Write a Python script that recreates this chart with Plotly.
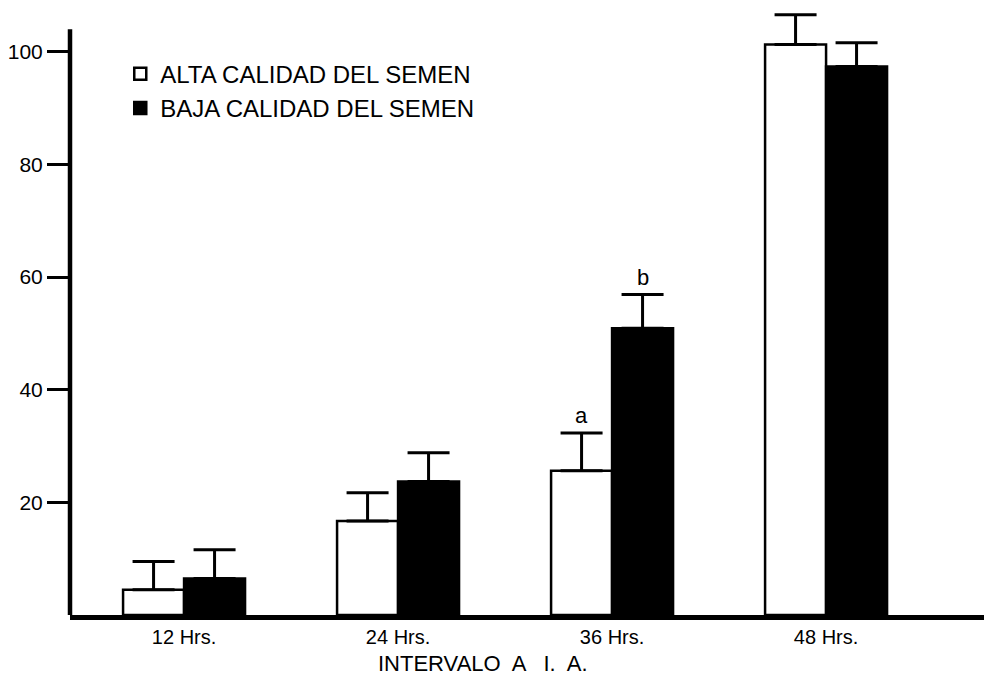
import plotly.graph_objects as go

categories = ["12 Hrs.", "24 Hrs.", "36 Hrs.", "48 Hrs."]
alta_values = [4.5, 16.7, 25.6, 101.3]
alta_errors = [5.0, 5.0, 6.7, 5.3]
baja_values = [6.5, 23.7, 50.9, 97.4]
baja_errors = [5.1, 5.1, 6.0, 4.2]
series_names = ["ALTA CALIDAD DEL SEMEN", "BAJA CALIDAD DEL SEMEN"]
y_ticks = [20, 40, 60, 80, 100]
sig_letters = ["a", "b"]

FONT = "Liberation Sans, Arial, sans-serif"

fig = go.Figure()
fig.add_trace(go.Bar(
    x=categories, y=alta_values, name=series_names[0],
    marker=dict(color="white", line=dict(color="black", width=2.5)),
    error_y=dict(type="data", array=alta_errors, arrayminus=[0]*4, symmetric=False,
                 color="black", thickness=3, width=21),
    legendgroup="g1",
))
fig.add_trace(go.Bar(
    x=categories, y=baja_values, name=series_names[1],
    marker=dict(color="black", line=dict(color="black", width=2.5)),
    error_y=dict(type="data", array=baja_errors, arrayminus=[0]*4, symmetric=False,
                 color="black", thickness=3, width=21),
    legendgroup="g2",
))

# significance letters over the 36 Hrs. bars
fig.add_annotation(x=categories[2], y=alta_values[2] + alta_errors[2], text=sig_letters[0],
                   showarrow=False, xshift=-31, yanchor="bottom", yshift=3,
                   font=dict(size=22, color="black", family=FONT))
fig.add_annotation(x=categories[2], y=baja_values[2] + baja_errors[2], text=sig_letters[1],
                   showarrow=False, xshift=31, yanchor="bottom", yshift=3,
                   font=dict(size=22, color="black", family=FONT))

# x-axis title
fig.add_annotation(x=0.452, y=0, xref="paper", yref="paper", yanchor="middle", yshift=-48,
                   text="INTERVALO  A   I.  A.", showarrow=False,
                   font=dict(size=22, color="black", family=FONT))

# y axis line (stops at ~104)
fig.add_shape(type="line", xref="paper", yref="y", x0=0, x1=0, y0=-0.3, y1=104,
              line=dict(color="black", width=4.5))

fig.update_layout(
    width=984, height=679,
    margin=dict(l=70, r=0, t=4, b=64, autoexpand=False),
    paper_bgcolor="white", plot_bgcolor="white",
    barmode="group", bargap=0.43, bargroupgap=0,
    font=dict(family=FONT, color="black"),
    showlegend=True,
    legend=dict(x=0.055, y=0.922, xanchor="left", yanchor="top",
                font=dict(size=24, color="black", family=FONT),
                traceorder="grouped", tracegroupgap=0,
                bgcolor="rgba(0,0,0,0)", borderwidth=0),
    xaxis=dict(type="category", range=[-0.533, 3.738], showgrid=False,
               showline=True, linecolor="black", linewidth=5,
               ticks="", tickfont=dict(size=20, color="black", family=FONT),
               ticklabelstandoff=0, zeroline=False, automargin=False),
    yaxis=dict(range=[0, 108.5], showgrid=False, zeroline=False, showline=False,
               tickvals=y_ticks, ticktext=[str(v) for v in y_ticks],
               ticks="outside", ticklen=22, tickwidth=3, tickcolor="black",
               tickfont=dict(size=21, color="black", family=FONT), automargin=False),
)

fig.write_html("out.html", config={"displayModeBar": False},
               post_script="document.body.style.margin='0';document.body.style.overflow='hidden';")
